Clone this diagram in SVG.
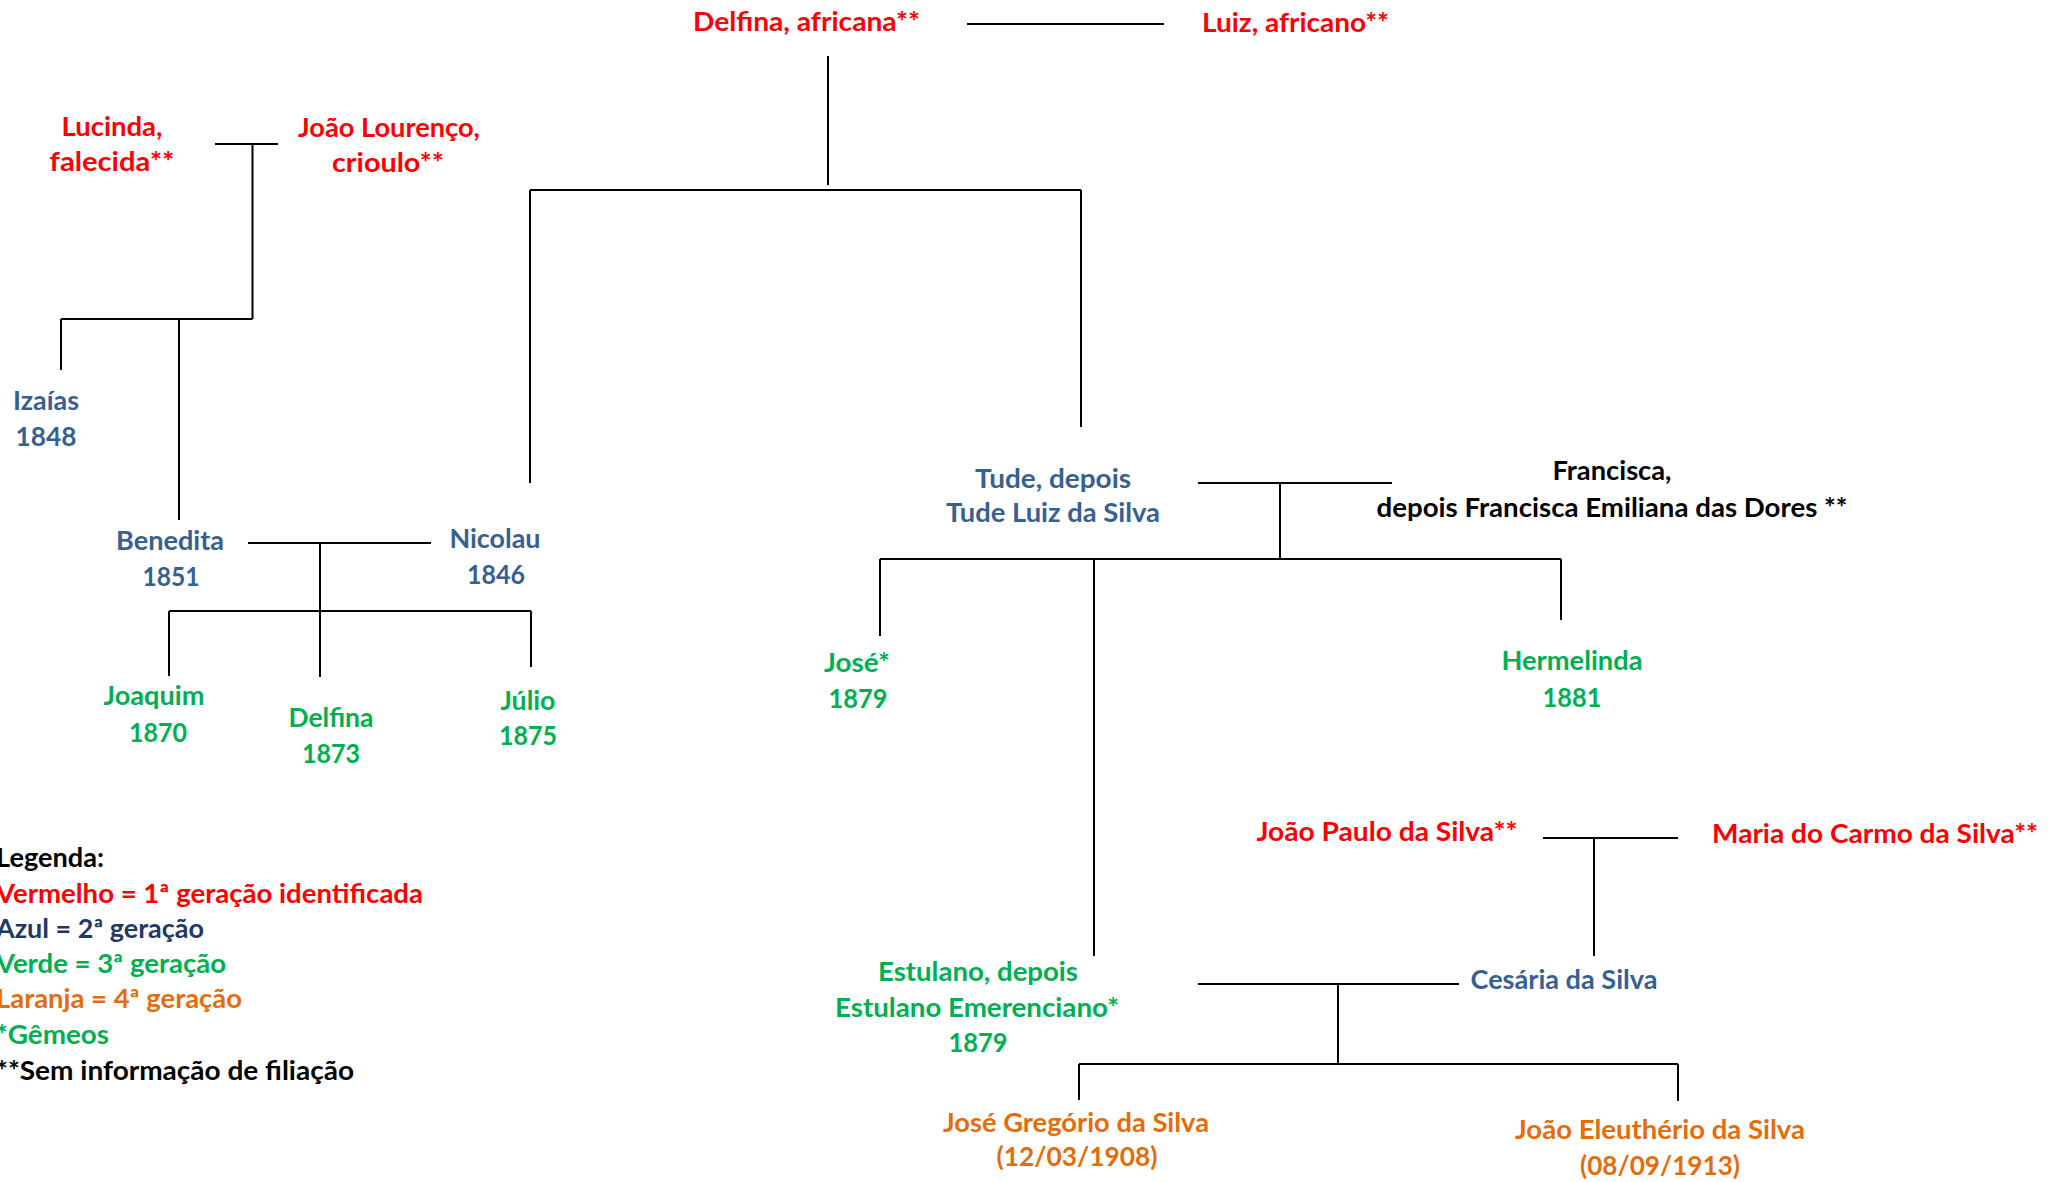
<svg xmlns="http://www.w3.org/2000/svg" width="2060" height="1182" viewBox="0 0 2060 1182">
<style>
text{font-family:Lato,"Open Sans","Liberation Sans",sans-serif;font-weight:bold;font-size:26px;text-anchor:middle}
.r{fill:#FF0000}.b{fill:#376092}.g{fill:#00B050}.o{fill:#E46C0A}.k{fill:#000000}.n{fill:#1F3864}
.leg text{text-anchor:start}
#connectors path{stroke:#000;stroke-width:2;fill:none}
</style>
<rect width="2060" height="1182" fill="#ffffff"/>
<g id="connectors">
<path d="M967 24H1164"/>
<path d="M828 56V185"/>
<path d="M530 190H1081"/>
<path d="M530 190V483"/>
<path d="M1081 190V427"/>
<path d="M215 144H278"/>
<path d="M252.5 144V319"/>
<path d="M61 319H252.5"/>
<path d="M61 319V370"/>
<path d="M179 319V520"/>
<path d="M248 543H431"/>
<path d="M320 543V677"/>
<path d="M169 611H531"/>
<path d="M169 611V676"/>
<path d="M531 611V667"/>
<path d="M1198 483H1392"/>
<path d="M1280 483V559"/>
<path d="M880 559H1561"/>
<path d="M880 559V636"/>
<path d="M1094 559V956"/>
<path d="M1561 559V620"/>
<path d="M1543 838H1678"/>
<path d="M1594 838V956"/>
<path d="M1198 984H1459"/>
<path d="M1338 984V1064"/>
<path d="M1079 1064H1678"/>
<path d="M1079 1064V1100"/>
<path d="M1678 1064V1101"/>
</g>
<g id="delfina-africana"><text class="r" x="806.5" y="31" textLength="227" lengthAdjust="spacingAndGlyphs">Delfina, africana**</text></g>
<g id="luiz-africano"><text class="r" x="1295.5" y="32" textLength="187" lengthAdjust="spacingAndGlyphs">Luiz, africano**</text></g>
<g id="lucinda"><text class="r" x="112" y="136" textLength="101" lengthAdjust="spacingAndGlyphs">Lucinda,</text><text class="r" x="112" y="171" textLength="125" lengthAdjust="spacingAndGlyphs">falecida**</text></g>
<g id="joao-lourenco"><text class="r" x="389" y="137" textLength="182" lengthAdjust="spacingAndGlyphs">João Lourenço,</text><text class="r" x="388" y="172" textLength="112" lengthAdjust="spacingAndGlyphs">crioulo**</text></g>
<g id="izaias"><text class="b" x="46" y="410" textLength="66" lengthAdjust="spacingAndGlyphs">Izaías</text><text class="b" x="46" y="446" textLength="61" lengthAdjust="spacingAndGlyphs">1848</text></g>
<g id="benedita"><text class="b" x="170" y="550" textLength="108" lengthAdjust="spacingAndGlyphs">Benedita</text><text class="b" x="171" y="586" textLength="57" lengthAdjust="spacingAndGlyphs">1851</text></g>
<g id="nicolau"><text class="b" x="495" y="548" textLength="91" lengthAdjust="spacingAndGlyphs">Nicolau</text><text class="b" x="496" y="584" textLength="58" lengthAdjust="spacingAndGlyphs">1846</text></g>
<g id="tude"><text class="b" x="1053" y="488" textLength="156" lengthAdjust="spacingAndGlyphs">Tude, depois</text><text class="b" x="1053" y="522" textLength="214" lengthAdjust="spacingAndGlyphs">Tude Luiz da Silva</text></g>
<g id="francisca"><text class="k" x="1612" y="480" textLength="119" lengthAdjust="spacingAndGlyphs">Francisca,</text><text class="k" x="1612" y="517" textLength="471" lengthAdjust="spacingAndGlyphs">depois Francisca Emiliana das Dores **</text></g>
<g id="joaquim"><text class="g" x="154" y="705" textLength="101" lengthAdjust="spacingAndGlyphs">Joaquim</text><text class="g" x="158" y="742" textLength="58" lengthAdjust="spacingAndGlyphs">1870</text></g>
<g id="delfina-1873"><text class="g" x="331" y="727" textLength="85" lengthAdjust="spacingAndGlyphs">Delfina</text><text class="g" x="331" y="763" textLength="58" lengthAdjust="spacingAndGlyphs">1873</text></g>
<g id="julio"><text class="g" x="528" y="710" textLength="55" lengthAdjust="spacingAndGlyphs">Júlio</text><text class="g" x="528" y="745" textLength="58" lengthAdjust="spacingAndGlyphs">1875</text></g>
<g id="jose"><text class="g" x="857" y="672" textLength="66" lengthAdjust="spacingAndGlyphs">José*</text><text class="g" x="858" y="708" textLength="59" lengthAdjust="spacingAndGlyphs">1879</text></g>
<g id="hermelinda"><text class="g" x="1572" y="670" textLength="141" lengthAdjust="spacingAndGlyphs">Hermelinda</text><text class="g" x="1572" y="707" textLength="59" lengthAdjust="spacingAndGlyphs">1881</text></g>
<g id="joao-paulo"><text class="r" x="1387" y="841" textLength="261" lengthAdjust="spacingAndGlyphs">João Paulo da Silva**</text></g>
<g id="maria-do-carmo"><text class="r" x="1875" y="843" textLength="326" lengthAdjust="spacingAndGlyphs">Maria do Carmo da Silva**</text></g>
<g id="estulano"><text class="g" x="978" y="981" textLength="200" lengthAdjust="spacingAndGlyphs">Estulano, depois</text><text class="g" x="977" y="1017" textLength="284" lengthAdjust="spacingAndGlyphs">Estulano Emerenciano*</text><text class="g" x="978" y="1052" textLength="59" lengthAdjust="spacingAndGlyphs">1879</text></g>
<g id="cesaria"><text class="b" x="1564" y="989" textLength="187" lengthAdjust="spacingAndGlyphs">Cesária da Silva</text></g>
<g id="jose-gregorio"><text class="o" x="1076" y="1132" textLength="266" lengthAdjust="spacingAndGlyphs">José Gregório da Silva</text><text class="o" x="1077" y="1166" textLength="161" lengthAdjust="spacingAndGlyphs">(12/03/1908)</text></g>
<g id="joao-eleutherio"><text class="o" x="1660" y="1139" textLength="290" lengthAdjust="spacingAndGlyphs">João Eleuthério da Silva</text><text class="o" x="1660" y="1175" textLength="160" lengthAdjust="spacingAndGlyphs">(08/09/1913)</text></g>
<g id="legend" class="leg">
<text class="k" x="-4" y="867" textLength="108" lengthAdjust="spacingAndGlyphs">Legenda:</text>
<text class="r" x="-4" y="903" textLength="427" lengthAdjust="spacingAndGlyphs">Vermelho = 1ª geração identificada</text>
<text class="n" x="-4" y="938" textLength="208" lengthAdjust="spacingAndGlyphs">Azul = 2ª geração</text>
<text class="g" x="-4" y="973" textLength="230" lengthAdjust="spacingAndGlyphs">Verde = 3ª geração</text>
<text class="o" x="-4" y="1008" textLength="246" lengthAdjust="spacingAndGlyphs">Laranja = 4ª geração</text>
<text class="g" x="-4" y="1044" textLength="113" lengthAdjust="spacingAndGlyphs">*Gêmeos</text>
<text class="k" x="-4" y="1080" textLength="358" lengthAdjust="spacingAndGlyphs">**Sem informação de filiação</text>
</g>
</svg>
